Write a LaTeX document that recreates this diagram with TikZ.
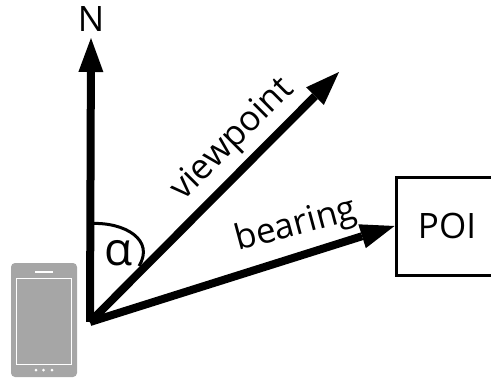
\documentclass[tikz,border=0pt]{standalone}
\usepackage{fontspec}
\setmainfont{Open Sans}
\usetikzlibrary{arrows.meta}
\definecolor{phonegrey}{HTML}{A6A6A6}
\tikzset{
  x=1pt,y=-1pt,
  vec/.style={line width=8pt,-{Triangle[length=34pt,width=25pt,line width=0pt]}},
  lbl/.style={inner sep=0pt,font=\fontsize{35}{35}\selectfont},
  poibox/.style={draw,line width=3pt,inner sep=0pt,minimum width=102pt,minimum height=98pt,font=\fontsize{35}{35}\selectfont},
}
\begin{document}
\begin{tikzpicture}
\useasboundingbox (0,0) rectangle (491,378);
\clip (0,0) rectangle (491,378);
% phone
\fill[phonegrey,rounded corners=4pt] (11,263) rectangle (77,377);
\draw[white,line width=1.6pt,fill=phonegrey] (16.5,278.5) rectangle (71.5,364.5);
\draw[white,line width=1.6pt] (35,272) -- (53,272);
\fill[white] (36,370) circle (1.5) (43.5,370) circle (1.5) (52,370) circle (1.5);
% centre and targets
\coordinate (o) at (90,322);
\coordinate (n) at (91,38);
\coordinate (v) at (339,72);
\node[poibox] (poi) at (447,226) {POI};
\draw[vec] (o) -- (n);
\draw[vec] (o) -- (v);
\draw[vec] (o) -- (poi.west);
\coordinate (a1) at (91,223.5);
\coordinate (a2) at (139,266);
\draw[line width=3pt] (a1) .. controls (125,222) and (155,240) .. (a2);
\node[lbl] (nt) at (91,19) {N};
\node[lbl,font=\fontsize{46}{46}\selectfont] (alpha) at (118.5,253) {α};
\node[lbl,rotate=45] (vt) at (233,140) {viewpoint};
\node[lbl,rotate=15] (bt) at (296,226) {bearing};
\end{tikzpicture}
\end{document}
